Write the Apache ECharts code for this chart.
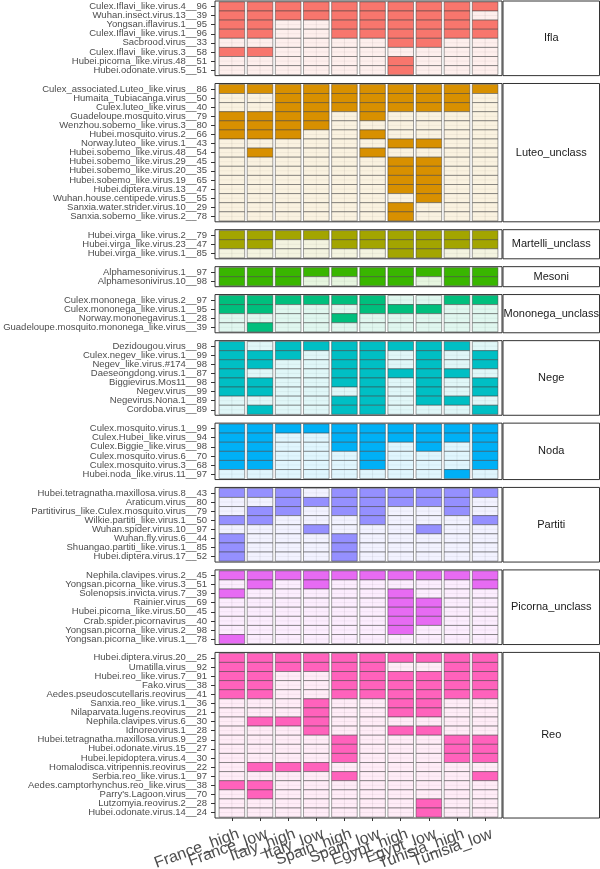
<!DOCTYPE html>
<html><head><meta charset="utf-8">
<script src="https://cdn.jsdelivr.net/npm/echarts@6/dist/echarts.min.js"></script>
<style>html,body{margin:0;padding:0;background:#fff}#c{width:600px;height:869px}</style>
</head><body><div id="c"></div>
<script>
const samples = ['France_high','France_low','Italy_high','Italy_low','Spain_high','Spain_low','Egypt_high','Egypt_low','Tunisia_high','Tunisia_low'];

const facetNames = ['Ifla','Luteo_unclass','Martelli_unclass','Mesoni','Mononega_unclass','Nege','Noda','Partiti','Picorna_unclass','Reo'];
const facetColors = ['#F8766D','#D89000','#A3A500','#39B600','#00BF7D','#00BFC4','#00B0F6','#9590FF','#E76BF3','#FF62BC'];

const iflaLabels = ['Culex.Iflavi_like.virus.4__96','Wuhan.insect.virus.13__39','Yongsan.iflavirus.1__95','Culex.Iflavi_like.virus.1__96','Sacbrood.virus__33','Culex.Iflavi_like.virus.3__58','Hubei.picorna_like.virus.48__51','Hubei.odonate.virus.5__51'];
const iflaValues = [
 [1,1,1,1,1,1,1,1,1,1],
 [1,1,1,1,1,1,1,1,1,0],
 [1,1,0,0,1,1,1,1,1,1],
 [1,1,0,0,1,1,1,1,1,1],
 [0,0,0,0,0,0,1,1,0,0],
 [1,1,0,0,0,0,0,0,0,0],
 [0,0,0,0,0,0,1,0,0,0],
 [0,0,0,0,0,0,1,0,0,0]];

const luteoLabels = ['Culex_associated.Luteo_like.virus__86','Humaita_Tubiacanga.virus__50','Culex.luteo_like.virus__40','Guadeloupe.mosquito.virus__79','Wenzhou.sobemo_like.virus.3__80','Hubei.mosquito.virus.2__66','Norway.luteo_like.virus.1__43','Hubei.sobemo_like.virus.48__54','Hubei.sobemo_like.virus.29__45','Hubei.sobemo_like.virus.20__35','Hubei.sobemo_like.virus.19__65','Hubei.diptera.virus.13__47','Wuhan.house.centipede.virus.5__55','Sanxia.water.strider.virus.10__29','Sanxia.sobemo_like.virus.2__78'];
const luteoValues = [
 [1,1,1,1,1,1,1,1,1,1],
 [0,0,1,1,1,1,1,1,1,0],
 [0,0,1,1,1,1,1,1,1,0],
 [1,1,1,1,0,1,0,0,0,0],
 [1,1,1,1,0,0,0,0,0,0],
 [1,1,1,0,0,1,0,0,0,0],
 [0,0,0,0,0,0,1,1,0,0],
 [0,1,0,0,0,1,0,0,0,0],
 [0,0,0,0,0,0,1,1,0,0],
 [0,0,0,0,0,0,1,1,0,0],
 [0,0,0,0,0,0,1,1,0,0],
 [0,0,0,0,0,0,1,1,0,0],
 [0,0,0,0,0,0,0,1,0,0],
 [0,0,0,0,0,0,1,0,0,0],
 [0,0,0,0,0,0,1,0,0,0]];

const martelliLabels = ['Hubei.virga_like.virus.2__79','Hubei.virga_like.virus.23__47','Hubei.virga_like.virus.1__85'];
const martelliValues = [
 [1,1,1,1,1,1,1,1,1,1],
 [1,1,0,0,1,1,1,1,1,1],
 [0,0,0,0,0,0,1,1,0,0]];

const mesoniLabels = ['Alphamesonivirus.1__97','Alphamesonivirus.10__98'];
const mesoniValues = [
 [1,1,1,1,1,1,1,1,1,1],
 [1,1,1,0,0,1,1,0,1,1]];

const mononegaLabels = ['Culex.mononega_like.virus.2__97','Culex.mononega_like.virus.1__95','Norway.mononegavirus.1__28','Guadeloupe.mosquito.mononega_like.virus__39'];
const mononegaValues = [
 [1,1,1,1,1,1,0,0,1,1],
 [1,1,0,0,0,1,1,1,0,0],
 [0,0,0,0,1,0,0,0,0,0],
 [0,1,0,0,0,0,0,0,0,0]];

const negeLabels = ['Dezidougou.virus__98','Culex.negev_like.virus.1__99','Negev_like.virus.#174__98','Daeseongdong.virus.1__87','Biggievirus.Mos11__98','Negev.virus__99','Negevirus.Nona.1__89','Cordoba.virus__89'];
const negeValues = [
 [1,0,1,1,1,1,1,1,1,0],
 [1,1,1,0,1,1,0,1,0,1],
 [1,1,0,0,1,1,0,1,0,1],
 [1,0,0,0,1,1,1,1,1,0],
 [1,1,0,0,1,1,0,1,0,1],
 [1,1,0,0,0,1,0,1,0,1],
 [0,0,0,0,1,1,0,1,1,0],
 [0,1,0,0,1,1,0,0,0,1]];

const nodaLabels = ['Culex.mosquito.virus.1__99','Culex.Hubei_like.virus__94','Culex.Biggie_like.virus__98','Culex.mosquito.virus.6__70','Culex.mosquito.virus.3__68','Hubei.noda_like.virus.11__97'];
const nodaValues = [
 [1,1,1,1,1,1,1,1,1,1],
 [1,1,0,0,1,1,1,1,1,1],
 [1,1,0,0,1,1,0,1,0,1],
 [1,1,0,0,0,1,0,0,0,1],
 [1,1,0,0,0,1,0,0,0,1],
 [0,0,0,0,0,0,0,0,1,0]];

const partitiLabels = ['Hubei.tetragnatha.maxillosa.virus.8__43','Araticum.virus__80','Partitivirus_like.Culex.mosquito.virus__79','Wilkie.partiti_like.virus.1__50','Wuhan.spider.virus.10__97','Wuhan.fly.virus.6__44','Shuangao.partiti_like.virus.1__85','Hubei.diptera.virus.17__52'];
const partitiValues = [
 [1,1,1,0,1,1,1,1,1,1],
 [0,0,1,1,1,1,1,1,1,0],
 [0,1,1,0,1,1,0,0,1,0],
 [1,1,0,0,0,1,0,0,0,1],
 [0,0,0,1,0,0,0,1,0,0],
 [1,0,0,0,1,0,0,0,0,0],
 [1,0,0,0,1,0,0,0,0,0],
 [1,0,0,0,1,0,0,0,0,0]];

const picornaLabels = ['Nephila.clavipes.virus.2__45','Yongsan.picorna_like.virus.3__51','Solenopsis.invicta.virus.7__39','Rainier.virus__69','Hubei.picorna_like.virus.50__45','Crab.spider.picornavirus__40','Yongsan.picorna_like.virus.2__98','Yongsan.picorna_like.virus.1__78'];
const picornaValues = [
 [1,1,1,1,1,1,1,1,1,1],
 [0,1,0,1,0,0,0,0,0,1],
 [1,0,0,0,0,0,1,0,0,0],
 [0,0,0,0,0,0,1,1,0,0],
 [0,0,0,0,0,0,1,1,0,0],
 [0,0,0,0,0,0,1,1,0,0],
 [0,0,0,0,0,0,1,0,0,0],
 [1,0,0,0,0,0,0,0,0,0]];

const reoLabels = ['Hubei.diptera.virus.20__25','Umatilla.virus__92','Hubei.reo_like.virus.7__91','Fako.virus__38','Aedes.pseudoscutellaris.reovirus__41','Sanxia.reo_like.virus.1__36','Nilaparvata.lugens.reovirus__21','Nephila.clavipes.virus.6__30','Idnoreovirus.1__28','Hubei.tetragnatha.maxillosa.virus.9__29','Hubei.odonate.virus.15__27','Hubei.lepidoptera.virus.4__30','Homalodisca.vitripennis.reovirus__22','Serbia.reo_like.virus.1__97','Aedes.camptorhynchus.reo_like.virus__38',"Parry's.Lagoon.virus__70",'Lutzomyia.reovirus.2__28','Hubei.odonate.virus.14__24'];
const reoValues = [
 [1,1,1,1,1,1,1,1,1,1],
 [1,1,1,1,1,1,0,0,1,1],
 [1,1,0,0,1,1,1,1,1,1],
 [1,1,0,0,1,1,1,1,1,1],
 [1,1,0,0,1,1,1,1,1,1],
 [0,0,0,1,0,0,1,1,0,0],
 [0,0,0,1,0,0,1,1,0,0],
 [0,1,1,1,0,0,0,0,0,0],
 [0,0,0,1,0,0,1,1,0,0],
 [0,0,0,0,1,0,0,0,1,1],
 [0,0,0,0,1,0,0,0,1,1],
 [0,0,0,0,1,0,0,0,1,1],
 [0,1,1,1,0,0,0,0,0,0],
 [0,0,0,0,1,0,0,0,0,1],
 [1,1,0,0,0,0,0,0,0,0],
 [0,1,0,0,0,0,0,0,0,0],
 [0,0,0,0,0,0,0,1,0,0],
 [0,0,0,0,0,0,0,1,0,0]];

const facetLabels = [iflaLabels, luteoLabels, martelliLabels, mesoniLabels, mononegaLabels, negeLabels, nodaLabels, partitiLabels, picornaLabels, reoLabels];
const facetValues = [iflaValues, luteoValues, martelliValues, mesoniValues, mononegaValues, negeValues, nodaValues, partitiValues, picornaValues, reoValues];

// layout
const panelLeft = 215, panelRight = 502, stripLeft = 503, stripRight = 599.5;
const xUnit = (panelRight - panelLeft) / 10.2;
const yUnit = 9.1, gapY = 7.87, topY = 1;
const FONT = 'Liberation Sans';

function pale(hex, a) {
  const r = parseInt(hex.slice(1,3),16), g = parseInt(hex.slice(3,5),16), b = parseInt(hex.slice(5,7),16);
  const m = v => Math.round(255 - a * (255 - v));
  return 'rgb(' + m(r) + ',' + m(g) + ',' + m(b) + ')';
}

function makeRender(color) {
  const pc = pale(color, 0.12);
  return function (params, api) {
    const c = api.value(0), r = api.value(1), v = api.value(2);
    const p = api.coord([c, r]);
    const s = api.size([1, 1]);
    const w = s[0] * 0.91, h = s[1];
    const x0 = p[0] - w / 2, y0 = p[1] - h / 2;
    const ch = [{ type: 'rect', shape: { x: x0, y: y0, width: w, height: h }, style: { fill: v ? color : pc, stroke: null } }];
    if (!v) {
      ch.push({ type: 'line', shape: { x1: p[0], y1: y0, x2: p[0], y2: y0 + h }, style: { stroke: 'rgba(0,0,0,0.09)', lineWidth: 0.8 } });
      ch.push({ type: 'line', shape: { x1: x0, y1: p[1], x2: x0 + w, y2: p[1] }, style: { stroke: 'rgba(0,0,0,0.06)', lineWidth: 0.8 } });
    }
    ch.push({ type: 'rect', shape: { x: x0, y: y0, width: w, height: h }, style: { fill: null, stroke: 'rgba(60,60,60,0.6)', lineWidth: 0.8 } });
    return { type: 'group', children: ch };
  };
}

const grids = [], xAxes = [], yAxes = [], series = [], graphics = [];
let y = topY;
facetNames.forEach((name, i) => {
  const n = facetLabels[i].length;
  const h = (n + 0.2) * yUnit;
  const isLast = i === facetNames.length - 1;
  grids.push({ left: panelLeft + 0.1 * xUnit, width: 10 * xUnit, top: y + 0.1 * yUnit, height: n * yUnit });
  xAxes.push({
    type: 'category', gridIndex: i, data: samples, show: isLast, position: 'bottom', offset: 0.1 * yUnit,
    axisLine: { show: false },
    axisTick: { show: true, alignWithLabel: true, interval: 0, length: 3, lineStyle: { color: '#333' } },
    axisLabel: { show: false },
    splitLine: { show: false }
  });
  yAxes.push({
    type: 'category', gridIndex: i, data: facetLabels[i], inverse: true, position: 'left', offset: 0.1 * xUnit,
    axisLine: { show: false },
    axisTick: { show: true, alignWithLabel: true, interval: 0, length: 4, lineStyle: { color: '#333' } },
    axisLabel: { interval: 0, fontSize: 9.5, color: '#4d4d4d', margin: 8, fontFamily: FONT },
    splitLine: { show: false }
  });
  const data = [];
  facetValues[i].forEach((row, r) => row.forEach((v, c) => data.push([c, r, v])));
  series.push({ type: 'custom', xAxisIndex: i, yAxisIndex: i, data: data, renderItem: makeRender(facetColors[i]), animation: false, silent: true });
  graphics.push({ type: 'rect', shape: { x: panelLeft, y: y, width: panelRight - panelLeft, height: h }, style: { fill: null, stroke: '#333', lineWidth: 1 }, z: 100 });
  graphics.push({ type: 'rect', shape: { x: stripLeft, y: y, width: stripRight - stripLeft, height: h }, style: { fill: '#fff', stroke: '#333', lineWidth: 1 }, z: 100 });
  graphics.push({ type: 'text', x: (stripLeft + stripRight) / 2, y: y + h / 2, style: { text: name, fill: '#1a1a1a', font: '11px "' + FONT + '"', align: 'center', verticalAlign: 'middle' }, z: 101 });
  y += h + gapY;
});

// rotated x-axis labels of the bottom panel, placed through the bottom axis scale
const lastIdx = facetNames.length - 1;
const lastRow = facetLabels[lastIdx].length - 1;
series.push({
  type: 'custom', xAxisIndex: lastIdx, yAxisIndex: lastIdx, clip: false, silent: true, animation: false,
  data: samples.map((s, c) => [c, lastRow]),
  renderItem: function (params, api) {
    const c = api.value(0);
    const p = api.coord([c, api.value(1)]);
    const bh = api.size([1, 1])[1];
    return {
      type: 'text', x: p[0] + 4, y: p[1] + bh / 2 + 0.1 * yUnit + 8, rotation: 20 * Math.PI / 180,
      style: { text: samples[c], fill: '#4d4d4d', fontSize: 16, fontFamily: FONT, align: 'right', verticalAlign: 'top' }
    };
  }
});

const chart = echarts.init(document.getElementById('c'), null, { renderer: 'canvas' });
chart.setOption({
  animation: false,
  backgroundColor: '#fff',
  textStyle: { fontFamily: FONT },
  grid: grids, xAxis: xAxes, yAxis: yAxes, series: series, graphic: graphics
});
</script></body></html>
